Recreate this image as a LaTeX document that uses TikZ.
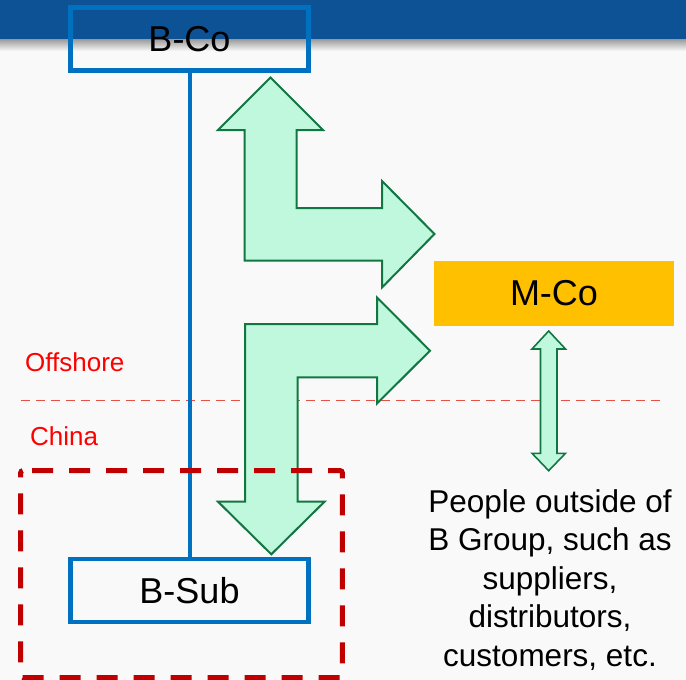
\documentclass[tikz,border=0pt]{standalone}
\usepackage{fontspec}
\setmainfont{Liberation Sans}
\definecolor{bg}{RGB}{249,249,249}
\definecolor{barblue}{RGB}{14,82,150}
\definecolor{boxblue}{RGB}{0,112,192}
\definecolor{mint}{RGB}{191,248,220}
\definecolor{flowgreen}{RGB}{18,118,66}
\definecolor{mcoorange}{RGB}{255,192,0}
\definecolor{linered}{RGB}{231,80,68}
\definecolor{boxred}{RGB}{192,0,0}
\newcommand{\bigtxt}{\fontsize{36}{43}\selectfont}
\begin{document}
\begin{tikzpicture}[x=1pt, y=-1pt, 
	box/.style = {draw=boxblue, line width=4.5pt, inner sep=0pt, minimum width=238pt, minimum height=63pt, font=\bigtxt},
	flow/.style = {fill=mint, draw=flowgreen, line width=2pt},
	zone/.style = {text=red, inner sep=0pt, font=\fontsize{26}{31}\selectfont}]
	\useasboundingbox (0,0) rectangle (686,680);
	\fill[bg] (0,0) rectangle (686,680);
	\fill[barblue] (0,0) rectangle (686,39);
	\shade[top color=black!40, bottom color=bg] (0,39) rectangle (686,51);
	
	% offshore / china border
	\draw[linered, line width=1.2pt, dash pattern=on 9pt off 6pt] (20.5,400.5) -- (665,400.5);
	\node[zone, anchor=west] (off) at (25,362.7) {Offshore};
	\node[zone, anchor=west] (cn) at (30,436.7) {China};
	
	\node[box] (bco) at (189.5,39) {B-Co};
	\node[box] (bsub) at (189.5,590.5) {B-Sub};
	\draw[boxblue, line width=4pt] (bco.south) -- (bsub.north);
	
	\filldraw[flow] (270.5,77.5) -- (323,130) -- (296.5,130) -- (296.5,208) -- (382,208) -- (382,181) -- (434.5,234) -- (382,287.5) -- (382,260.5) -- (244.5,260.5) -- (244.5,130) -- (218,130) -- cycle;
	\filldraw[flow] (245,324) -- (377,324) -- (377,297.5) -- (430,350.7) -- (377,403.5) -- (377,377.3) -- (297.7,377.3) -- (297.7,501.7) -- (324.5,501.7) -- (271.3,554.3) -- (218,501.7) -- (245,501.7) -- cycle;
	
	\node[fill=mcoorange, inner sep=0pt, minimum width=240pt, minimum height=65pt, font=\bigtxt] (mco) at (554,293.5) {M-Co};
	\filldraw[flow, line width=1.6pt] (548.7,331) -- (565.5,349) -- (557,349) -- (557,453.3) -- (565.5,453.3) -- (548.7,470.7) -- (532,453.3) -- (540.5,453.3) -- (540.5,349) -- (532,349) -- cycle;
	\node[align=center, anchor=north, inner sep=0pt, font=\fontsize{31.5}{38.6}\selectfont] (ppl) at (550,489) {People outside of\\B Group, such as\\suppliers,\\distributors,\\customers, etc.};
	
	\draw[boxred, line width=5pt, rounded corners=2pt, dash pattern=on 21pt off 16pt, dash phase=27.7pt] (20.7,470.7) -- (342.3,470.7) -- (342.3,677.5) -- (20.7,677.5) -- cycle;
\end{tikzpicture}
\end{document}
